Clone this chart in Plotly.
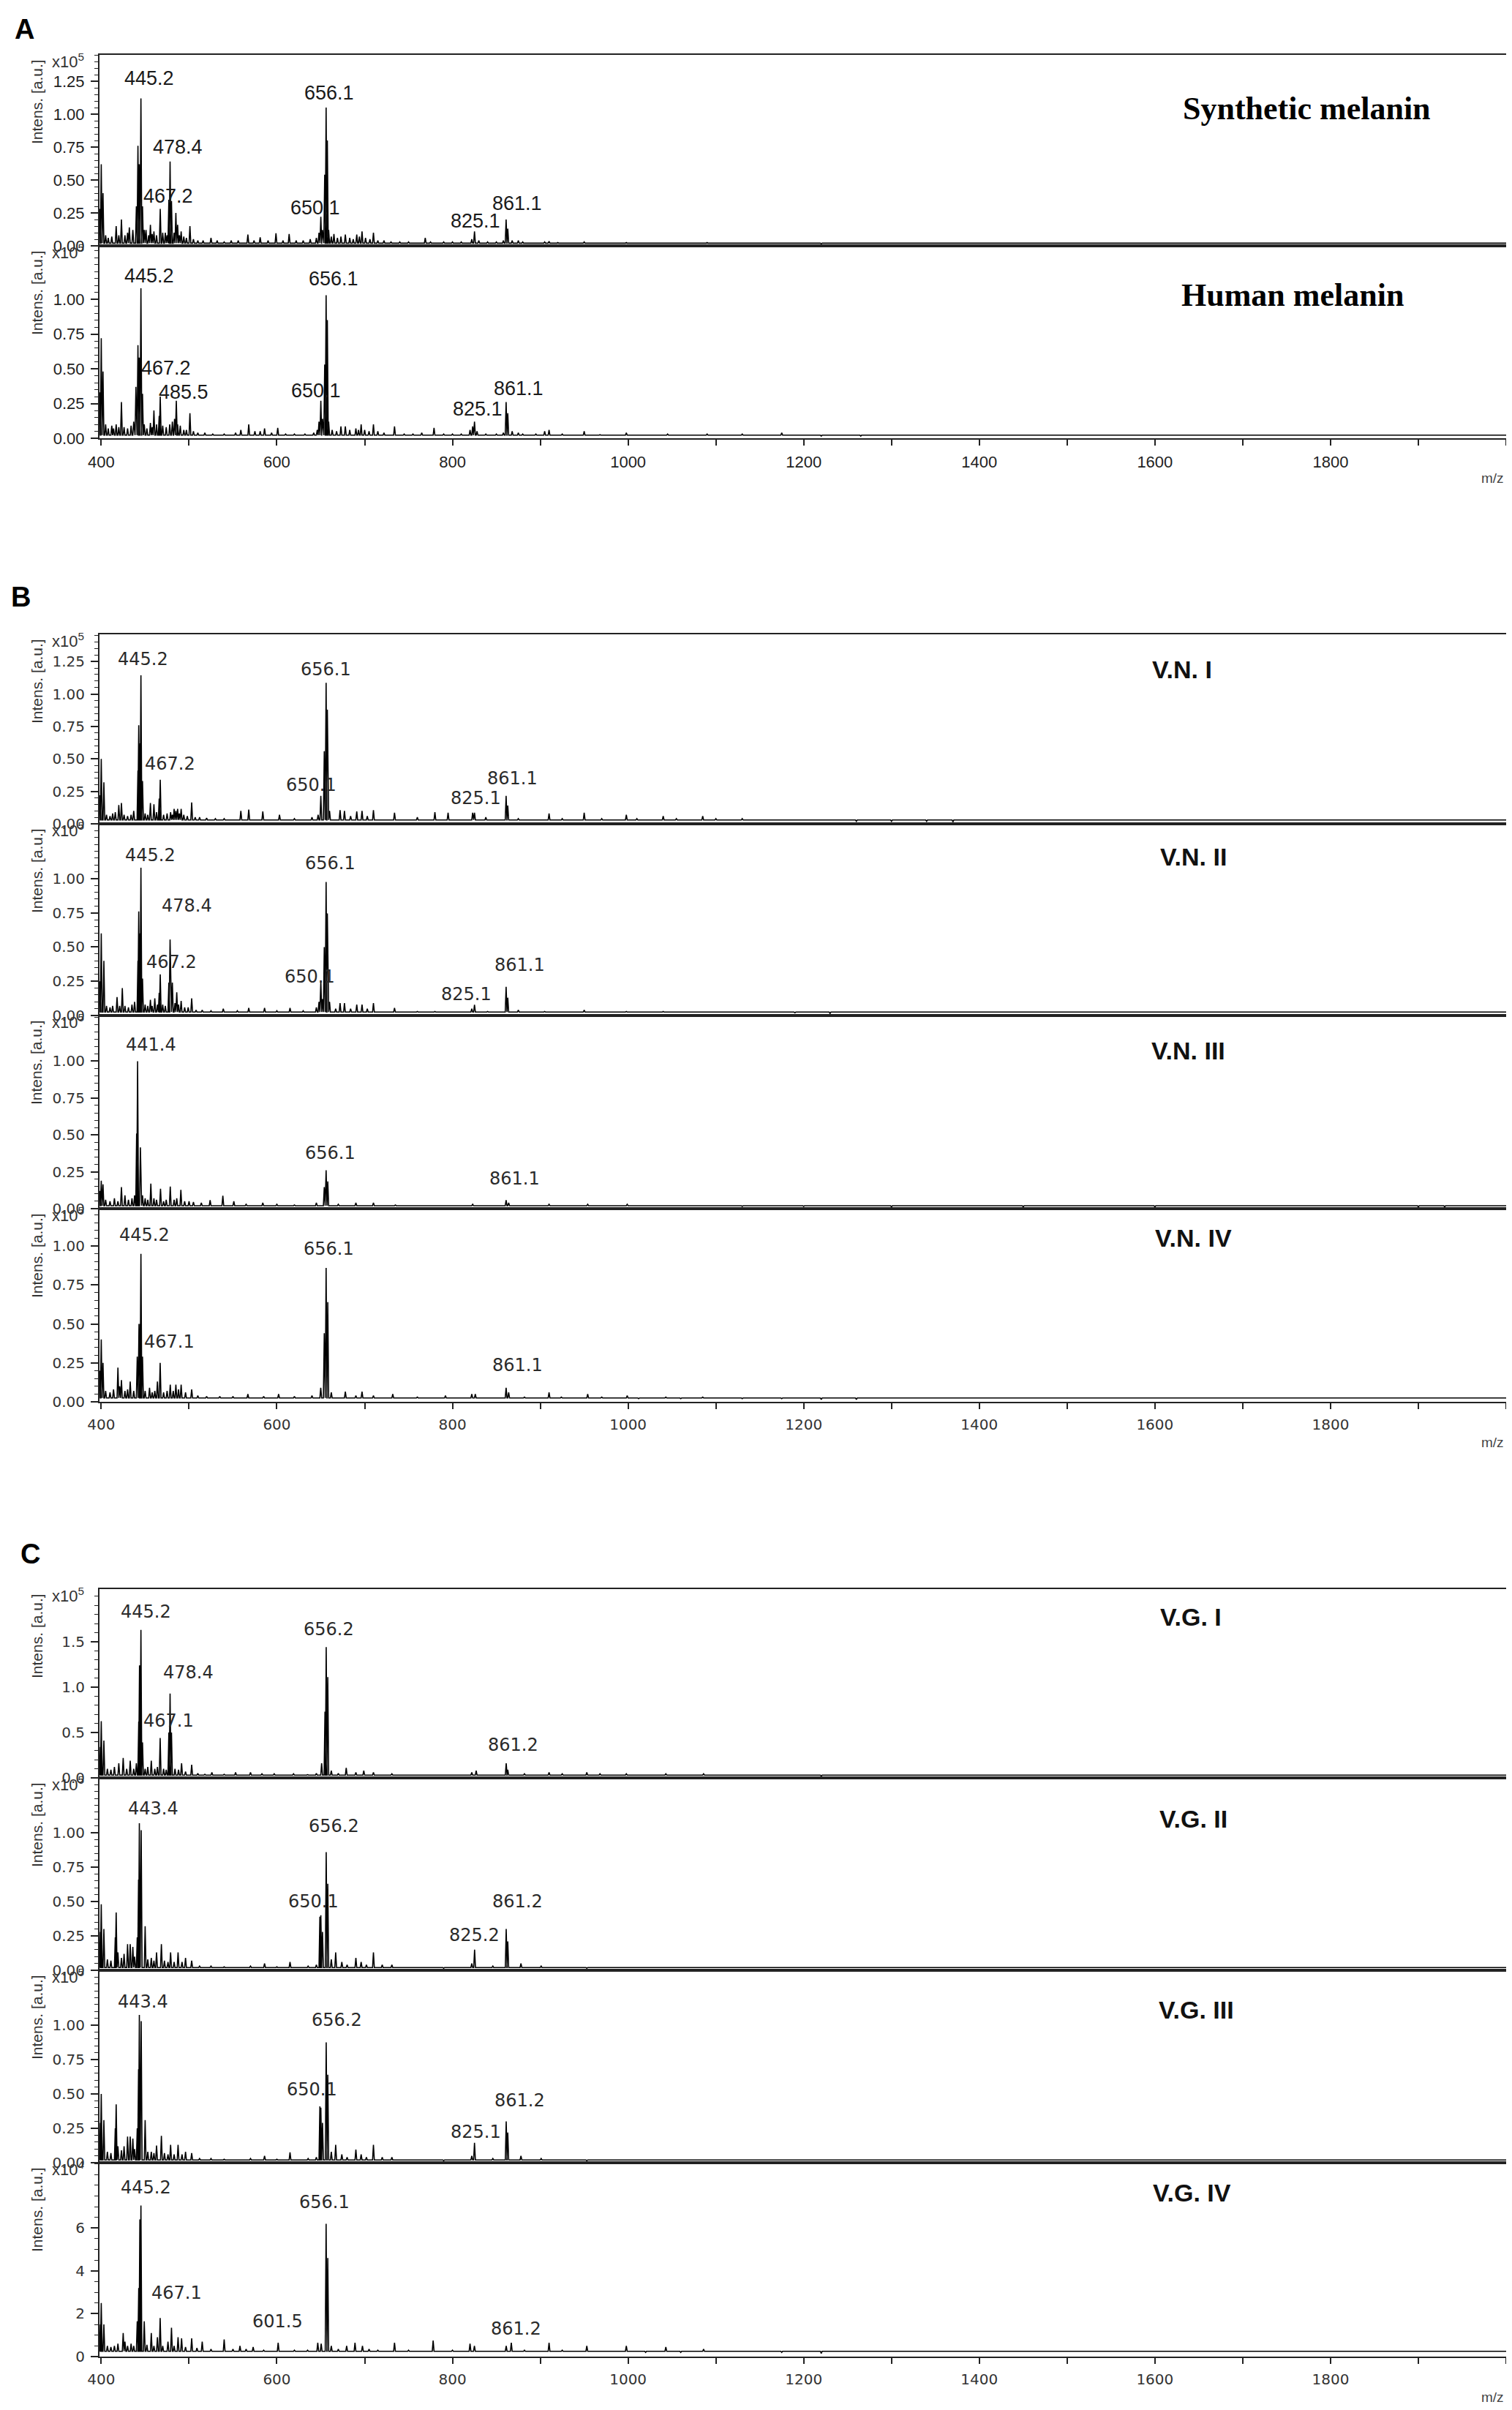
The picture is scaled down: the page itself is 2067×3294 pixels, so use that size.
import plotly.graph_objects as go

W, H = 2067, 3294
XMIN, XMAX = 398, 2000
OFF = 4  # small page offset compensation (page pixels)

# ---------------- data: (m/z, intensity) peak lists ----------------
peaks_syn = [(398.5,0.28),(400,0.62),(402,0.40),(405,0.08),(408,0.06),(412,0.07),(417,0.15),(420,0.08),
    (423,0.20),(427,0.08),(430,0.10),(432,0.14),(436,0.12),(440,0.30),(441.8,0.76),(443.3,0.62),(445.2,1.12),
    (447,0.30),(449,0.12),(451,0.12),(454,0.08),(456,0.16),(458,0.09),(460,0.11),(463,0.08),(467.2,0.28),
    (470,0.10),(473,0.10),(475,0.08),(477,0.35),(478.4,0.64),(480,0.34),(483,0.10),(485,0.25),(487,0.16),
    (489,0.08),(491,0.11),(494,0.07),(497,0.06),(501,0.15),(505,0.05),(510,0.04),(516,0.04),(525,0.06),
    (532,0.04),(540,0.03),(548,0.04),(556,0.04),(567,0.085),(574,0.04),(581,0.065),(590,0.04),(599,0.095),
    (607,0.04),(614,0.09),(622,0.04),(630,0.04),(638,0.05),(645,0.06),(648,0.10),(650.1,0.22),(652,0.12),
    (654.5,0.54),(656.1,1.05),(657.5,0.80),(659,0.12),(662,0.07),(665,0.09),(669,0.06),(673,0.07),(678,0.085),
    (683,0.06),(687,0.05),(691,0.085),(694,0.07),(697,0.11),(701,0.06),(706,0.05),(710,0.10),(715,0.04),
    (722,0.04),(730,0.03),(740,0.03),(750,0.03),(769,0.06),(775,0.03),(790,0.03),(800,0.03),(810,0.03),
    (822,0.05),(825.1,0.11),(830,0.04),(840,0.03),(850,0.03),(858,0.04),(861.1,0.20),(863,0.13),(868,0.04),
    (875,0.04),(880,0.03),(895,0.02),(905,0.03),(910,0.035),(920,0.025),(932,0.02),(950,0.03),(968,0.02),
    (998,0.025),(1042,0.02),(1090,0.025),(1130,0.02),(1175,0.02),(1220,0.015)]

peaks_hum = [(398.5,0.33),(400,0.72),(402,0.48),(405,0.10),(408,0.07),(412,0.09),(414,0.07),(417,0.10),
    (420,0.08),(423,0.26),(426,0.08),(430,0.07),(434,0.09),(437,0.12),(439.5,0.37),(441.8,0.67),(443.3,0.58),
    (445.2,1.08),(447,0.32),(449,0.10),(452,0.07),(456,0.11),(458,0.08),(460,0.20),(463,0.10),(466,0.16),
    (467.2,0.30),(470,0.09),(474,0.08),(478,0.10),(481,0.12),(483.5,0.14),(485.5,0.27),(487,0.10),(490,0.09),
    (494,0.06),(497,0.06),(501,0.18),(505,0.05),(510,0.04),(518,0.04),(527,0.03),(540,0.03),(553,0.04),
    (559,0.06),(568,0.10),(575,0.05),(581,0.05),(586,0.07),(594,0.04),(601,0.075),(610,0.03),(620,0.03),
    (632,0.03),(642,0.04),(646,0.06),(648,0.12),(650.1,0.27),(652,0.14),(654.5,0.53),(656.1,1.03),
    (657.5,0.85),(659,0.12),(663,0.06),(668,0.05),(673,0.085),(678,0.085),(683,0.06),(690,0.07),(693,0.06),
    (696,0.10),(700,0.06),(705,0.05),(710,0.10),(715,0.05),(722,0.04),(734,0.085),(745,0.03),(755,0.03),
    (765,0.04),(779,0.075),(790,0.03),(800,0.03),(810,0.03),(820,0.06),(823,0.085),(825.1,0.12),(828,0.05),
    (838,0.03),(850,0.03),(858,0.04),(861.1,0.26),(863,0.18),(868,0.05),(875,0.04),(880,0.03),(895,0.03),
    (905,0.05),(910,0.06),(925,0.03),(950,0.05),(968,0.025),(998,0.04),(1018,0.02),(1045,0.03),(1060,0.02),
    (1090,0.03),(1130,0.03),(1175,0.04),(1220,0.015),(1265,0.015)]

peaks_vn1 = [(398.5,0.22),(400,0.50),(403,0.32),(406,0.07),(410,0.06),(413,0.08),(416,0.09),(420,0.145),
    (423,0.16),(426,0.07),(430,0.06),(434,0.07),(437,0.10),(441.8,0.41),(442.7,0.76),(444.3,0.62),
    (445.2,1.145),(447,0.33),(450,0.08),(453,0.07),(456,0.16),(460,0.15),(463,0.09),(466,0.195),(467.2,0.34),
    (471,0.07),(475,0.08),(479,0.09),(481,0.07),(483,0.115),(485,0.10),(487,0.115),(489,0.08),(491,0.115),
    (494,0.07),(498,0.06),(503,0.165),(507,0.05),(512,0.05),(520,0.045),(530,0.04),(540,0.04),(559,0.10),
    (568,0.11),(584,0.095),(603,0.07),(620,0.04),(640,0.05),(647,0.07),(650.1,0.215),(654,0.56),(656.1,1.087),
    (657.5,0.88),(660,0.10),(672,0.105),(677,0.10),(684,0.06),(691,0.095),(697,0.10),(703,0.06),(710,0.105),
    (734,0.085),(760,0.05),(780,0.09),(795,0.085),(823,0.085),(825.1,0.085),(838,0.05),(861.1,0.215),
    (863,0.14),(875,0.04),(910,0.08),(925,0.04),(950,0.085),(970,0.04),(998,0.07),(1010,0.04),(1040,0.06),
    (1055,0.04),(1085,0.06),(1100,0.04),(1130,0.04),(1175,0.03),(1220,0.03),(1260,0.02),(1300,0.02),
    (1340,0.02),(1370,0.015)]

peaks_vn2 = [(398.5,0.25),(400,0.60),(403,0.40),(406,0.07),(410,0.06),(413,0.07),(418,0.135),(421,0.07),
    (424,0.20),(427,0.07),(431,0.06),(435,0.08),(438,0.10),(441.8,0.40),(442.7,0.76),(444.3,0.60),
    (445.2,1.08),(447,0.27),(450,0.08),(453,0.07),(456,0.115),(458,0.07),(461,0.125),(464,0.08),(466,0.165),
    (467.2,0.30),(470,0.08),(473,0.07),(477,0.24),(478.4,0.555),(481,0.24),(484,0.09),(486,0.17),(488,0.08),
    (491,0.107),(495,0.06),(499,0.06),(503,0.125),(508,0.04),(515,0.04),(525,0.035),(539,0.05),(555,0.035),
    (568,0.055),(586,0.055),(600,0.035),(615,0.055),(630,0.035),(645,0.06),(648,0.10),(650.1,0.25),
    (652,0.12),(654,0.50),(656.1,0.975),(657.5,0.745),(660,0.10),(667,0.05),(672,0.09),(677,0.09),(684,0.05),
    (691,0.08),(697,0.08),(703,0.05),(710,0.09),(734,0.055),(760,0.03),(780,0.03),(800,0.025),(822,0.05),
    (825.1,0.078),(840,0.03),(861.1,0.21),(863,0.13),(875,0.04),(905,0.03),(950,0.04),(998,0.03),(1040,0.03),
    (1190,0.02),(1230,0.015)]

peaks_vn3 = [(398.5,0.12),(400,0.19),(402,0.165),(405,0.06),(410,0.05),(415,0.07),(419,0.05),(423,0.146),
    (427,0.09),(431,0.06),(435,0.07),(438,0.09),(440.3,0.51),(441.4,1.00),(444.6,0.415),(447,0.09),
    (450,0.07),(453,0.06),(456.5,0.17),(460,0.07),(463,0.06),(467.5,0.135),(471,0.05),(474,0.06),
    (478.6,0.15),(483,0.06),(486,0.07),(490.7,0.127),(495,0.05),(500,0.05),(505,0.045),(514,0.04),
    (524,0.058),(538.5,0.088),(551,0.05),(565,0.03),(584,0.04),(600,0.03),(620,0.025),(645,0.04),
    (654,0.146),(656.1,0.26),(658,0.185),(670,0.03),(690,0.04),(710,0.04),(735,0.025),(780,0.02),
    (823,0.03),(861.1,0.058),(864,0.04),(910,0.03),(954,0.03),(999,0.03),(1040,0.02),(1090,0.02),
    (1130,0.015),(1200,0.015),(1300,0.012),(1450,0.012),(1600,0.012),(1900,0.012),(1930,0.012)]

peaks_vn4 = [(398.5,0.20),(400,0.40),(402,0.25),(405,0.07),(410,0.06),(414,0.08),(419,0.22),(421,0.10),
    (423,0.14),(427,0.07),(430,0.08),(433,0.13),(437,0.07),(441,0.29),(443,0.50),(444.5,0.50),(445.2,0.95),
    (447,0.29),(450,0.07),(455,0.09),(458,0.06),(461,0.07),(464,0.13),(467.1,0.25),(471,0.06),(475,0.07),
    (478.6,0.11),(482,0.07),(485,0.11),(488,0.08),(491,0.11),(496,0.06),(503,0.08),(510,0.04),(520,0.035),
    (535,0.035),(550,0.035),(567,0.05),(585,0.035),(602,0.05),(620,0.035),(640,0.04),(650,0.09),(654,0.44),
    (656.1,0.86),(658,0.64),(662,0.06),(678,0.065),(690,0.04),(697,0.065),(710,0.04),(732,0.05),(760,0.03),
    (792,0.04),(822,0.05),(826,0.05),(861.1,0.09),(864,0.06),(882,0.03),(910,0.06),(924,0.03),(954,0.05),
    (970,0.03),(999,0.04),(1012,0.02),(1043,0.03),(1060,0.02),(1085,0.03),(1130,0.02),(1175,0.02),
    (1220,0.015),(1260,0.015)]

peaks_vg1 = [(399,0.34),(400,0.625),(403,0.41),(407,0.10),(411,0.09),(415,0.12),(420,0.16),(425,0.22),
    (429,0.10),(433,0.19),(437,0.10),(440,0.16),(442.7,0.62),(443.6,1.24),(444.5,0.89),(445.2,1.63),
    (447,0.39),(450,0.10),(453,0.12),(457,0.19),(461,0.10),(464,0.12),(467.1,0.44),(471,0.10),(474,0.09),
    (477,0.50),(478.4,0.93),(480,0.50),(484,0.10),(488,0.09),(491.5,0.16),(496,0.07),(503,0.145),(510,0.05),
    (518,0.04),(526,0.06),(540,0.04),(553,0.06),(570,0.06),(583,0.045),(597,0.045),(619,0.045),(635,0.035),
    (645,0.05),(651,0.16),(654.8,0.73),(656.2,1.44),(658,1.11),(662,0.08),(670,0.05),(679,0.11),(690,0.06),
    (699,0.08),(710,0.06),(731,0.045),(764,0.03),(795,0.03),(822,0.06),(827,0.08),(861.2,0.16),(863,0.09),
    (882,0.045),(910,0.06),(925,0.045),(953,0.06),(968,0.045),(998,0.045),(1014,0.03),(1043,0.045),
    (1058,0.03),(1086,0.045),(1102,0.03),(1129,0.03),(1175,0.025),(1220,0.02)]

peaks_vg2 = [(399,0.28),(400,0.48),(403,0.30),(407,0.08),(411,0.07),(416,0.24),(417,0.42),(419,0.13),
    (423,0.09),(426,0.12),(430,0.19),(433,0.19),(436,0.17),(438,0.10),(441,0.24),(442.5,0.66),(443.4,1.07),
    (445.5,1.02),(450,0.32),(453,0.08),(457,0.09),(460,0.07),(463,0.13),(468.5,0.19),(472,0.07),(476,0.06),
    (479,0.13),(483,0.06),(487.5,0.13),(492,0.06),(496,0.09),(503,0.07),(512,0.03),(525,0.03),(540,0.025),
    (570,0.03),(586,0.05),(600,0.025),(615,0.06),(635.6,0.03),(645,0.04),(649,0.39),(650.1,0.40),(652,0.28),
    (656.2,0.86),(658,0.63),(662,0.08),(667,0.13),(674,0.06),(680,0.04),(690,0.09),(696,0.06),(702,0.04),
    (710,0.13),(720,0.04),(731,0.04),(764,0.02),(790,0.015),(822,0.05),(825.2,0.15),(846,0.03),(861.2,0.30),
    (863,0.21),(878,0.05),(901,0.03),(910,0.02),(953,0.015)]

peaks_vg3 = [(399,0.29),(400,0.50),(403,0.31),(407,0.08),(411,0.07),(416,0.25),(417,0.425),(419,0.12),
    (423,0.09),(426,0.12),(430,0.19),(433,0.19),(436,0.175),(438,0.10),(441,0.25),(442.5,0.68),(443.4,1.075),
    (445.5,1.03),(450,0.31),(453,0.08),(457,0.08),(460,0.07),(463,0.125),(468.5,0.195),(472,0.07),(476,0.06),
    (479,0.13),(483,0.06),(487.5,0.13),(492,0.06),(496,0.08),(503,0.07),(512,0.03),(525,0.03),(540,0.025),
    (570,0.03),(586,0.05),(600,0.025),(615,0.075),(635.6,0.03),(645,0.04),(649,0.41),(650.1,0.40),(652,0.29),
    (656.2,0.875),(658,0.64),(662,0.08),(667,0.13),(674,0.06),(680,0.04),(690,0.095),(696,0.06),(702,0.04),
    (710,0.13),(720,0.04),(731,0.04),(764,0.02),(790,0.015),(822,0.05),(825.1,0.145),(846,0.03),(861.2,0.30),
    (863,0.22),(878,0.05),(901,0.03),(910,0.02),(953,0.015)]

peaks_vg4 = [(399,1.5),(400,2.5),(403,1.5),(407,0.5),(411,0.45),(415,0.5),(419,0.6),(425,1.1),(427,0.7),
    (430,0.5),(434,0.6),(437,0.5),(441,1.65),(442.7,3.2),(444,6.4),(444.6,3.9),(445.2,7.05),(449,1.65),
    (452,0.55),(457,1.1),(460,0.5),(464,0.9),(467.1,1.8),(470,0.5),(476,0.7),(480,1.35),(483,0.5),
    (487.5,0.9),(491.5,0.85),(496,0.45),(503,0.85),(509,0.4),(515,0.7),(525,0.35),(540,0.8),(550,0.35),
    (558,0.5),(565,0.35),(573,0.45),(585,0.3),(601.5,0.65),(620,0.3),(635,0.3),(646.6,0.65),(650.5,0.6),
    (656.1,6.2),(658,4.6),(662,0.5),(670,0.35),(679.5,0.5),(689,0.65),(697.5,0.5),(705,0.35),(715,0.3),
    (734,0.65),(750,0.3),(778,0.75),(800,0.3),(820,0.6),(825,0.5),(861.2,0.5),(867,0.65),(882,0.3),
    (910,0.65),(925,0.3),(953,0.5),(969,0.25),(998,0.5),(1020,0.2),(1043,0.45),(1060,0.2),(1086,0.35),
    (1129,0.25),(1175,0.2),(1220,0.15)]

# peak labels: (text, m/z, intensity) where the label is written
labels_syn = [("445.2",455,1.27),("656.1",659.8,1.16),("478.4",486.8,0.75),("467.2",475.9,0.38),
              ("650.1",643.5,0.29),("825.1",825.9,0.19),("861.1",873.7,0.325)]
labels_hum = [("445.2",455,1.17),("656.1",664.4,1.15),("467.2",474.2,0.505),("485.5",493.4,0.33),
              ("650.1",644.5,0.34),("825.1",828.6,0.21),("861.1",875.4,0.36)]
labels_vn1 = [("445.2",447.8,1.27),("656.1",655.5,1.19),("467.2",478.6,0.46),("650.1",639,0.30),
              ("825.1",827,0.20),("861.1",868,0.35)]
labels_vn2 = [("445.2",456,1.17),("656.1",661,1.11),("478.4",497.8,0.80),("467.2",479.7,0.39),
              ("650.1",637.4,0.285),("825.1",815.9,0.155),("861.1",876.4,0.367)]
labels_vn3 = [("441.4",456.6,1.11),("656.1",661,0.377),("861.1",870.9,0.204)]
labels_vn4 = [("445.2",449.4,1.07),("656.1",658.8,0.98),("467.1",477.5,0.385),("861.1",874.2,0.234)]
labels_vg1 = [("445.2",451,1.83),("656.2",658.8,1.64),("478.4",498.8,1.16),("467.1",477,0.63),
              ("861.2",868.7,0.366)]
labels_vg2 = [("443.4",459.4,1.175),("656.2",665.4,1.05),("650.1",641.8,0.50),("825.2",824.7,0.253),
              ("861.2",874.2,0.50)]
labels_vg3 = [("443.4",447.8,1.17),("656.2",668.2,1.04),("650.1",640.2,0.535),("825.1",827,0.226),
              ("861.2",877,0.453)]
labels_vg4 = [("445.2",451,7.9),("656.1",654.4,7.2),("467.1",486.3,2.96),("601.5",600.6,1.64),
              ("861.2",872.6,1.3)]

sample_names = ["Synthetic melanin", "Human melanin", "V.N. I", "V.N. II", "V.N. III", "V.N. IV",
                "V.G. I", "V.G. II", "V.G. III", "V.G. IV"]
exponents = [5, 5, 5, 5, 5, 5, 5, 5, 5, 4]
panel_letters = ["A", "B", "C"]
x_ticks = [400, 600, 800, 1000, 1200, 1400, 1600, 1800]
yt_125 = [0, 0.25, 0.5, 0.75, 1.0, 1.25]
yt_100 = [0, 0.25, 0.5, 0.75, 1.0]
yt_c1 = [0, 0.5, 1.0, 1.5]
yt_c4 = [0, 2, 4, 6]
y_ticks = [yt_125, yt_100, yt_125, yt_100, yt_100, yt_100, yt_c1, yt_100, yt_100, yt_c4]

# ---------------- layout description (page pixels) ----------------
# (top, bottom, y-range top, minor step, format, panel style, name m/z, name y, baseline, is_bottom)
panels = [
    (71, 332, 1.45, 0.05, ".2f", "A", 1773, 1.04, 0.02, False),
    (332, 595, 1.385, 0.05, ".2f", "A", 1757, 1.03, 0.022, True),
    (863, 1122, 1.46, 0.05, ".2f", "B", 1631, 1.19, 0.03, False),
    (1122, 1384, 1.40, 0.05, ".2f", "B", 1644, 1.16, 0.025, False),
    (1384, 1648, 1.31, 0.05, ".2f", "B", 1638, 1.07, 0.02, False),
    (1648, 1912, 1.24, 0.05, ".2f", "B", 1644, 1.05, 0.025, True),
    (2168, 2426, 2.08, 0.1, ".1f", "C", 1641, 1.77, 0.03, False),
    (2426, 2689, 1.40, 0.05, ".2f", "C", 1644, 1.10, 0.02, False),
    (2689, 2952, 1.40, 0.05, ".2f", "C", 1647, 1.115, 0.02, False),
    (2952, 3217, 9.05, 0.5, "d", "C", 1642, 7.64, 0.25, True),
]
all_peaks = [peaks_syn, peaks_hum, peaks_vn1, peaks_vn2, peaks_vn3, peaks_vn4,
             peaks_vg1, peaks_vg2, peaks_vg3, peaks_vg4]
all_labels = [labels_syn, labels_hum, labels_vn1, labels_vn2, labels_vn3, labels_vn4,
              labels_vg1, labels_vg2, labels_vg3, labels_vg4]

X0, X1 = 132, 2055


def px(x):
    return (x - OFF) / W


def py(y):
    return 1 - (y - OFF) / H


def stick_xy(peaks, base, w=1.0):
    xs, ys = [XMIN], [base]
    for m, h in sorted(peaks):
        xs += [m - w, m, m + w]
        ys += [base, h, base]
    xs.append(XMAX)
    ys.append(base)
    return xs, ys


fig = go.Figure()
annotations = []
AX_COL = "#222222"

for i, (top, bot, ytop, minor, fmt, style, nx, ny, base, is_bottom) in enumerate(panels):
    k = "" if i == 0 else str(i + 1)
    xs, ys = stick_xy(all_peaks[i], base)
    fig.add_trace(go.Scatter(x=xs, y=ys, mode="lines", line=dict(color="black", width=1.6),
                             xaxis="x" + k, yaxis="y" + k, showlegend=False, hoverinfo="skip"))
    tick_font = dict(family="Liberation Sans", size=22, color="#222") if style == "A" else \
        dict(family="DejaVu Sans", size=20, color="#333")
    xminor = dict(dtick=100, tick0=400, ticks="outside", ticklen=8, tickwidth=1.5, tickcolor=AX_COL) \
        if is_bottom else dict(ticks="")
    fig.update_layout(**{
        "xaxis" + k: dict(
            domain=[px(X0), px(X1)], range=[XMIN, XMAX], anchor="y" + k, automargin=False,
            showline=True, mirror=True, linecolor=AX_COL, linewidth=2,
            showgrid=False, zeroline=False,
            ticks="outside" if is_bottom else "", ticklen=8, tickwidth=1.5, tickcolor=AX_COL,
            tickmode="array", tickvals=x_ticks if is_bottom else [], showticklabels=is_bottom,
            minor=xminor, tickfont=tick_font, ticklabelstandoff=4,
        ),
        "yaxis" + k: dict(
            domain=[py(bot), py(top)], range=[0, ytop], anchor="x" + k, automargin=False,
            showline=True, mirror=True, linecolor=AX_COL, linewidth=2,
            showgrid=False, zeroline=False,
            ticks="outside", ticklen=10, tickwidth=1.5, tickcolor=AX_COL,
            tickmode="array", tickvals=y_ticks[i], tickformat=fmt,
            minor=dict(dtick=minor, tick0=0, ticks="outside", ticklen=5, tickwidth=1.2, tickcolor=AX_COL),
            tickfont=tick_font, ticklabelstandoff=4,
        ),
    })

    # peak labels
    if style == "A":
        lab_font = dict(family="Liberation Sans", size=27, color="#1a1a1a")
    else:
        lab_font = dict(family="DejaVu Sans", size=24, color="#2a2a2a")
    for txt, mx, my in all_labels[i]:
        annotations.append(dict(x=mx, y=my, xref="x" + k, yref="y" + k, text=txt, showarrow=False,
                                font=lab_font, xanchor="center", yanchor="middle"))
    # sample name
    if style == "A":
        nf = dict(family="Liberation Serif", size=44, color="black")
    else:
        nf = dict(family="Liberation Sans", size=34, color="#111")
    annotations.append(dict(x=nx, y=ny, xref="x" + k, yref="y" + k, text="<b>%s</b>" % sample_names[i],
                            showarrow=False, font=nf, xanchor="center", yanchor="middle"))
    # exponent label
    annotations.append(dict(x=px(89), y=py(top + 8), xref="paper", yref="paper",
                            text="x10<sup>%d</sup>" % exponents[i], showarrow=False,
                            font=dict(family="Liberation Sans", size=22, color="#333"),
                            xanchor="center", yanchor="middle"))
    # y-axis title
    annotations.append(dict(x=px(46), y=py(top + 64), xref="paper", yref="paper",
                            text="Intens. [a.u.]", textangle=-90, showarrow=False,
                            font=dict(family="Liberation Sans", size=21, color="#333"),
                            xanchor="center", yanchor="middle"))
    if is_bottom:
        annotations.append(dict(x=px(2036), y=py(bot + 55), xref="paper", yref="paper",
                                text="m/z", showarrow=False,
                                font=dict(family="Liberation Sans", size=19, color="#444"),
                                xanchor="center", yanchor="middle"))

letter_pos = [(29, 36), (24, 812), (37, 2120)]
for letter, (lx, ly) in zip(panel_letters, letter_pos):
    annotations.append(dict(x=px(lx), y=py(ly), xref="paper", yref="paper",
                            text="<b>%s</b>" % letter, showarrow=False,
                            font=dict(family="Liberation Sans", size=38, color="black"),
                            xanchor="center", yanchor="middle"))

fig.update_layout(template="none", width=W, height=H, margin=dict(l=0, r=0, t=0, b=0, autoexpand=False),
                  paper_bgcolor="white", plot_bgcolor="white",
                  annotations=annotations, showlegend=False)

fig.write_html("out.html")
